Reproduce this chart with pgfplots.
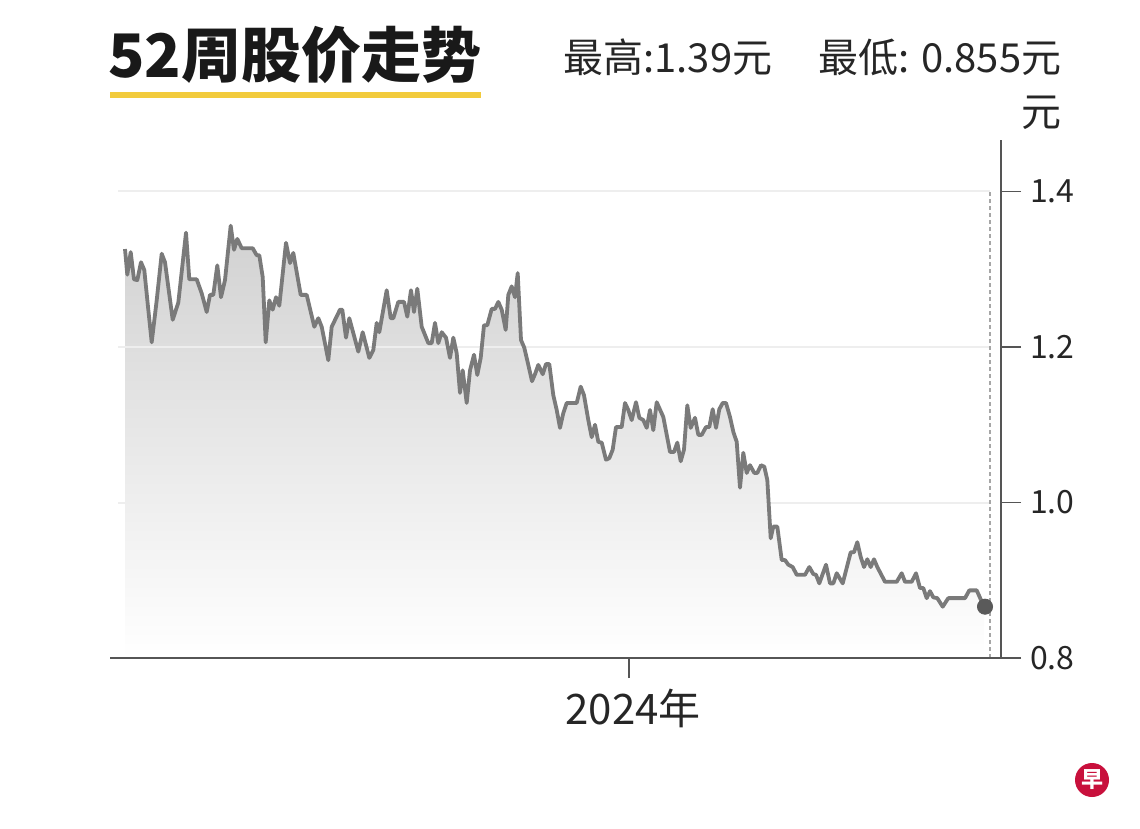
\documentclass[border=0pt]{standalone}
\usepackage{pgfplots}
\pgfplotsset{compat=1.18}
\usepackage{pgfplotstable}
\usepackage{fontspec}
\setmainfont{Noto Sans CJK SC}
\newfontfamily\cjk{Noto Sans CJK SC}
\definecolor{linegray}{HTML}{7A7A7A}
\definecolor{axisgray}{HTML}{555555}
\definecolor{dotgray}{HTML}{5A5A5A}
\definecolor{titleyellow}{HTML}{F2CB3C}
\definecolor{logored}{HTML}{C8103C}
\definecolor{gridgray}{HTML}{EEEEEE}

\pgfplotstableread{
x y
125 1.326
127.3 1.293
130.7 1.322
134 1.287
137.3 1.286
141 1.309
144.3 1.299
148.3 1.248
151.7 1.206
156.7 1.260
161.7 1.320
165 1.309
172.7 1.235
178.3 1.257
186 1.347
189.3 1.287
196.7 1.287
201.7 1.269
206.7 1.245
210 1.267
213.3 1.267
217.3 1.305
221 1.264
225 1.286
230.7 1.356
234 1.325
237.3 1.339
241.7 1.327
252.7 1.327
256.7 1.318
259.3 1.318
262.7 1.290
265.7 1.206
269.3 1.260
272.7 1.248
276 1.264
279.3 1.253
286 1.334
290 1.308
293.3 1.321
300.7 1.267
306.7 1.267
314.3 1.226
318.3 1.237
321.7 1.226
328.3 1.183
331.7 1.226
340 1.248
342.3 1.248
346 1.212
349.3 1.237
358.3 1.194
362.7 1.219
369.3 1.186
373.3 1.196
376.7 1.231
379.3 1.219
386.7 1.273
390.7 1.237
393.3 1.237
398.3 1.258
404 1.258
407.3 1.239
411 1.273
414 1.245
417.3 1.275
421.7 1.226
428.3 1.205
431.7 1.205
435 1.231
438.3 1.205
441.7 1.219
446 1.212
450 1.186
453.3 1.212
456.7 1.192
460 1.141
462.7 1.170
466.7 1.128
470 1.170
474 1.190
477.3 1.164
480.7 1.186
484 1.228
487.3 1.228
491.7 1.249
495 1.249
498.3 1.258
501.7 1.248
505.7 1.222
508.3 1.267
511.7 1.278
515 1.264
517.7 1.295
521 1.209
524.3 1.199
528.3 1.177
532 1.156
535 1.165
538.3 1.177
542.7 1.165
546 1.178
549.3 1.178
553.3 1.138
556.7 1.119
560 1.096
563.3 1.115
566.7 1.128
576.7 1.128
580.7 1.149
584 1.138
588.3 1.106
591.7 1.084
595 1.100
598.3 1.078
601.7 1.077
606 1.055
609.3 1.057
612.7 1.068
616 1.097
621.7 1.097
625 1.128
628.3 1.119
631.7 1.106
636 1.129
639.3 1.109
643.3 1.106
646.7 1.096
650 1.119
653.3 1.093
656.7 1.129
663.3 1.110
670 1.065
674 1.065
677.3 1.077
680.7 1.053
684 1.068
687.3 1.125
690.7 1.096
695 1.109
698.3 1.087
701.7 1.087
706 1.097
709.3 1.097
712.7 1.120
716 1.096
719.3 1.120
722.7 1.128
726 1.128
730 1.110
733.3 1.091
736.7 1.078
740 1.019
743.3 1.064
746.7 1.038
750 1.048
754.3 1.038
757.3 1.038
761 1.048
764.3 1.046
767.3 1.029
770.7 0.954
773.3 0.969
777.3 0.969
781.7 0.926
785 0.926
788.3 0.920
792.7 0.917
796.7 0.907
805 0.907
809.3 0.917
813.3 0.908
816 0.907
819.3 0.896
826 0.920
830 0.896
833.3 0.896
836.7 0.909
842.7 0.896
850.7 0.936
854 0.936
857.3 0.949
860.7 0.930
864 0.917
867.3 0.927
870.7 0.917
874 0.927
877.3 0.917
885 0.898
896.7 0.898
901.7 0.909
905 0.898
911.7 0.898
916 0.909
920 0.890
923.3 0.890
926.7 0.877
930 0.886
933.3 0.878
937.3 0.877
942.7 0.866
948.3 0.877
965 0.877
969.3 0.887
976.7 0.887
984 0.866
}\pricedata

\begin{document}
\begin{tikzpicture}
\useasboundingbox (0,0) rectangle (570pt,-414.5pt);
\begin{axis}[
  at={(55pt,-329pt)}, anchor=south west,
  scale only axis, width=445.5pt, height=259pt,
  xmin=110, xmax=1001, ymin=0.8, ymax=1.4662,
  axis x line=bottom, axis y line=right,
  axis line style={line width=1pt, color=axisgray, -},
  xtick={629}, xticklabels={2024年},
  ytick={0.8,1.0,1.2,1.4},
  tick align=outside, major tick length=10pt,
  tick style={line width=0.75pt, color=axisgray},
  axis on top,
  yticklabel style={/pgf/number format/fixed, /pgf/number format/fixed zerofill, /pgf/number format/precision=1, /pgf/number format/assume math mode=true, font=\fontsize{16pt}{16pt}\selectfont, text=black!85, xshift=1pt},
  xticklabel style={font=\fontsize{21pt}{21pt}\selectfont, text=black!85, yshift=-2pt, xshift=2pt},
  clip=false,
]
\addplot[draw=none, top color=black!18, middle color=black!7, bottom color=white, shading=axis] table[x=x,y=y]{\pricedata} \closedcycle;
\addplot[color=gridgray, line width=1pt] coordinates {(118,1.4) (990,1.4)};
\addplot[color=gridgray, line width=1pt] coordinates {(118,1.2) (990,1.2)};
\addplot[color=gridgray, line width=1pt] coordinates {(118,1.0) (990,1.0)};
\addplot[dash pattern=on 2pt off 1.5pt, color=black!35, line width=0.7pt] coordinates {(990,0.8) (990,1.4)};
\addplot[color=linegray, line width=1.9pt, line join=round] table[x=x,y=y]{\pricedata};
\addplot[only marks, mark=*, mark size=3.8pt, color=dotgray] coordinates {(985,0.866)};
\end{axis}
\begin{scope}[x=0.5pt,y=-0.5pt]
\node[anchor=west, inner sep=0pt, font=\cjk\bfseries\fontsize{30pt}{30pt}\selectfont, text=black!90] at (108,55) {52周股价走势};
\fill[titleyellow] (110,92) rectangle (481,98);
\node[anchor=west, inner sep=0pt, font=\cjk\fontsize{20pt}{20pt}\selectfont, text=black!85] at (563,57) {最高:1.39元};
\node[anchor=west, inner sep=0pt, font=\cjk\fontsize{20pt}{20pt}\selectfont, text=black!85] at (818,57) {最低: 0.855元};
\node[inner sep=0pt, font=\cjk\fontsize{20pt}{20pt}\selectfont, text=black!85] at (1041,113) {元};
\fill[logored] (1092,780) circle (17);
\node[inner sep=0pt, font=\cjk\bfseries\fontsize{11pt}{11pt}\selectfont, text=white] at (1092,780) {早};
\end{scope}
\end{tikzpicture}
\end{document}
